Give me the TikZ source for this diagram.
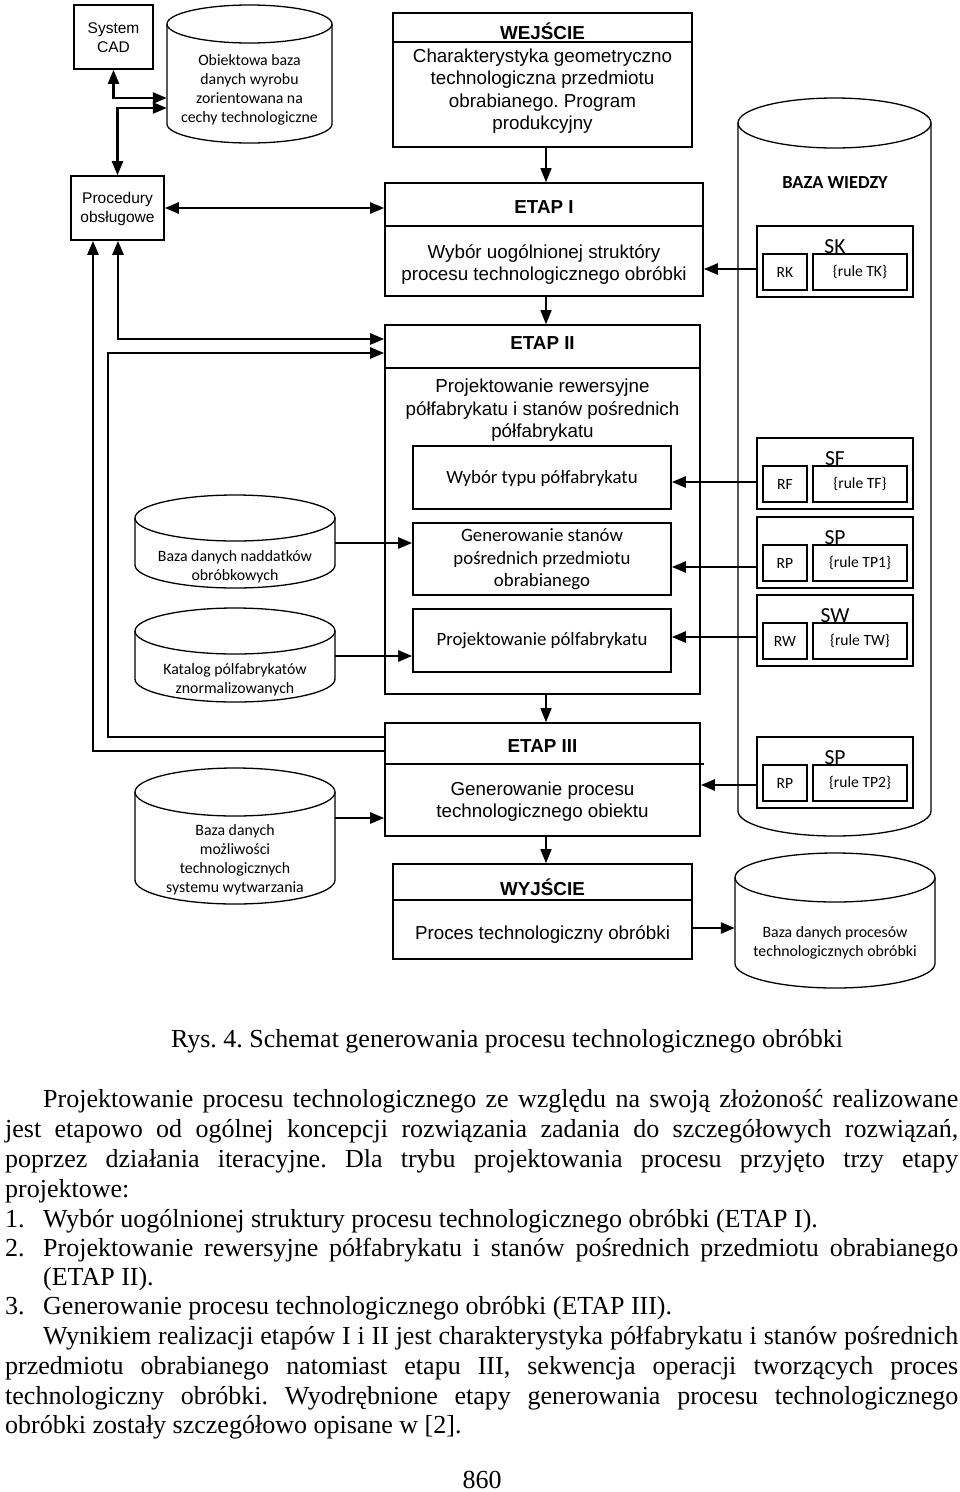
\documentclass[tikz,border=0pt]{standalone}
\usepackage{fontspec}
\setmainfont{Liberation Serif}
\newfontfamily\arialf{Liberation Sans}
\newfontfamily\calf{Carlito}
\usetikzlibrary{arrows.meta,calc}
\frenchspacing
\newcommand\mycyl[6]{% #1 name, #2 x1, #3 x2, #4 ytop, #5 ybot, #6 ry
  \node[inner sep=0pt, minimum width={(#3-#2)*1pt}, minimum height={(#5-#4)*1pt}] (#1) at ({(#2+#3)/2},{(#4+#5)/2}) {};
  \draw[cylline] ({(#2+#3)/2},{#4+#6}) ellipse [x radius={(#3-#2)/2*1pt}, y radius={#6*1pt}];
  \draw[cylline] (#2,{#4+#6}) -- (#2,{#5-#6}) arc[start angle=180, end angle=360, x radius={(#3-#2)/2*1pt}, y radius={#6*1pt}] -- (#3,{#4+#6});
}
\newcommand\rulegrp[5]{% #1 name, #2 top y, #3 title, #4 left label, #5 rule text
  \node[rbox, minimum width=156pt, minimum height=71pt] (#1) at (835,{#2+35.5}) {};
  \node[rtitle, anchor=base] (#1t) at (835,{#2+27}) {#3};
  \node[rbox, rsmall, minimum width=44pt, minimum height=36pt] (#1a) at (785,{#2+46}) {#4};
  \node[rbox, rsmall, minimum width=94pt, minimum height=36pt] (#1b) at (860,{#2+46}) {#5};
}
\begin{document}
\begin{tikzpicture}[x=1pt,y=-1pt,
  box/.style={draw, line width=1.6pt, inner sep=0pt},
  rbox/.style={draw, line width=1.6pt, inner sep=0pt},
  cylline/.style={line width=1.3pt},
  ttl/.style={font=\arialf\bfseries\fontsize{18.8}{22.5}\selectfont, inner sep=0pt},
  body/.style={font=\arialf\fontsize{18.8}{22.5}\selectfont, align=center, inner sep=0pt},
  sbody/.style={font=\arialf\fontsize{15.5}{19}\selectfont, align=center, inner sep=0pt},
  cbody/.style={font=\calf\fontsize{15.8}{19}\selectfont, align=center, inner sep=0pt},
  ibody/.style={font=\calf\fontsize{18.8}{22.5}\selectfont, align=center, inner sep=0pt},
  rtitle/.style={font=\calf\fontsize{21.5}{24}\selectfont, inner sep=0pt},
  rsmall/.style={font=\calf\fontsize{15.6}{19}\selectfont},
  thk/.style={line width=2.4pt},
  thn/.style={line width=1.3pt},
  tip/.tip={Triangle[length=14pt,width=11pt]},
  ptext/.style={anchor=base west, inner sep=0pt, font=\fontsize{26}{30}\selectfont}
]
\fill[white] (0,0) rectangle (960,1492);
\useasboundingbox (0,0) rectangle (960,1492);

% ---- left column boxes
\node[box, minimum width=79pt, minimum height=64pt] (cad) at (113.5,37) {};
\node[sbody] (cadt) at (113.5,37.5) {System\\CAD};
\node[box, minimum width=93pt, minimum height=64pt] (proc) at (117.5,208) {};
\node[sbody] (proct) at (117.5,208.5) {Procedury\\obsługowe};

% ---- cylinders
\mycyl{obj}{167}{332}{5}{143}{19}
\node[cbody] (objt) at (249.5,90) {Obiektowa baza\\danych wyrobu\\zorientowana na\\cechy technologiczne};
\mycyl{nad}{135}{335}{495}{588}{23}
\node[cbody] (nadt) at (235,566.5) {Baza danych naddatków\\obróbkowych};
\mycyl{kat}{135}{335}{608}{702}{23}
\node[cbody] (katt) at (235,679.5) {Katalog pólfabrykatów\\znormalizowanych};
\mycyl{moz}{135}{335}{768}{904}{24}
\node[cbody] (mozt) at (235,860) {Baza danych\\możliwości\\technologicznych\\systemu wytwarzania};
\mycyl{pro}{735}{935}{853}{988}{24.5}
\node[cbody] (prot) at (835,943) {Baza danych procesów\\technologicznych obróbki};
\mycyl{bw}{738}{931}{98}{836}{25}
\node[font=\calf\bfseries\fontsize{18.4}{22}\selectfont, inner sep=0pt] (bwt) at (835,183) {BAZA WIEDZY};

% ---- rule groups
\rulegrp{sk}{226}{SK}{RK}{\{rule TK\}}
\rulegrp{sf}{438}{SF}{RF}{\{rule TF\}}
\rulegrp{spa}{517}{SP}{RP}{\{rule TP1\}}
\rulegrp{sw}{595}{SW}{RW}{\{rule TW\}}
\rulegrp{spb}{737}{SP}{RP}{\{rule TP2\}}

% ---- WEJSCIE
\node[box, minimum width=299pt, minimum height=134pt] (wej) at (542.5,80) {};
\draw[box] (wej.west |- 0,42) -- (wej.east |- 0,42);
\node[ttl, anchor=base] (wejt) at (542.5,39) {WEJŚCIE};
\node[body] (wejb) at (542.5,91) {Charakterystyka geometryczno\\technologiczna przedmiotu\\obrabianego. Program\\produkcyjny};

% ---- ETAP I
\node[box, minimum width=318pt, minimum height=113pt] (e1) at (544,239.5) {};
\draw[box] (e1.west |- 0,226) -- (e1.east |- 0,226);
\node[ttl, anchor=base] (e1t) at (544,213) {ETAP I};
\node[body] (e1b) at (544,264.5) {Wybór uogólnionej struktóry\\procesu technologicznego obróbki};

% ---- ETAP II
\node[box, minimum width=315pt, minimum height=369pt] (e2) at (542.5,509.5) {};
\draw[box] (e2.west |- 0,368) -- (e2.east |- 0,368);
\node[ttl, anchor=base] (e2t) at (542.5,349) {ETAP II};
\node[body] (e2b) at (542.5,410.5) {Projektowanie rewersyjne\\półfabrykatu i stanów pośrednich\\półfabrykatu};
\node[box, minimum width=258pt, minimum height=63pt] (wyb) at (542,477.5) {};
\node[ibody] (wybt) at (542,478) {Wybór typu półfabrykatu};
\node[box, minimum width=258pt, minimum height=72pt] (gen) at (542,559) {};
\node[ibody] (gent) at (542,559.5) {Generowanie stanów\\pośrednich przedmiotu\\obrabianego};
\node[box, minimum width=258pt, minimum height=63pt] (proj) at (542,640.5) {};
\node[ibody] (projt) at (542,641) {Projektowanie pólfabrykatu};

% ---- ETAP III
\node[box, minimum width=315pt, minimum height=113pt] (e3) at (542.5,779.5) {};
\draw[box] (e3.west |- 0,764) -- ([xshift=3pt]e3.east |- 0,764);
\node[ttl, anchor=base] (e3t) at (542.5,752) {ETAP III};
\node[body] (e3b) at (542.5,801.5) {Generowanie procesu\\technologicznego obiektu};

% ---- WYJSCIE
\node[box, minimum width=299pt, minimum height=95pt] (wyj) at (542.5,911.5) {};
\draw[box] (wyj.west |- 0,900) -- (wyj.east |- 0,900);
\node[ttl, anchor=base] (wyjt) at (542.5,895) {WYJŚCIE};
\node[body] (wyjb) at (542.5,935) {Proces technologiczny obróbki};

% ---- connectors
\draw[thk, tip-tip] (cad.south) |- (obj.west |- 0,98);
\draw[thk, tip-tip] (proc.north) |- (obj.west |- 0,108);
\draw[thk, tip-tip] (proc.east) -- (proc.east -| e1.west);
\draw[thk, tip-tip] (proc.south -| 118,0) |- (e2.west |- 0,339);
\draw[thk, -tip] (e3.west |- 0,751) -| (proc.south -| 93,0);
\draw[thk, -tip] (e3.west |- 0,737) -| (108,353) -- (e2.west |- 0,353);
\draw[thk, -tip] (nad.east |- 0,543) -- (gen.west |- 0,543);
\draw[thk, -tip] (kat.east |- 0,656) -- (proj.west |- 0,656);
\draw[thk, -tip] (moz.east |- 0,818) -- (e3.west |- 0,818);
\draw[thk, -tip] (sk.west |- 0,269) -- (e1.east |- 0,269);
\draw[thk, -tip] (sf.west |- 0,482) -- (wyb.east |- 0,482);
\draw[thk, -tip] (spa.west |- 0,567) -- (gen.east |- 0,567);
\draw[thk, -tip] (sw.west |- 0,637) -- (proj.east |- 0,637);
\draw[thk, -tip] (spb.west |- 0,785) -- (e3.east |- 0,785);
\draw[thk, -tip] (wyj.east |- 0,928) -- (pro.west |- 0,928);
\draw[thn, -tip] (wej.south -| 546,0) -- (e1.north -| 546,0);
\draw[thn, -tip] (e1.south -| 546,0) -- (e2.north -| 546,0);
\draw[thn, -tip] (e2.south -| 546,0) -- (e3.north -| 546,0);
\draw[thn, -tip] (e3.south -| 546,0) -- (wyj.north -| 546,0);

% ---- caption and text
\node[anchor=base, inner sep=0pt, font=\fontsize{26}{30}\selectfont] (cap) at (507,1047) {Rys. 4. Schemat generowania procesu technologicznego obróbki};
\node[ptext] (l1) at (43,1107) {\makebox[915pt][s]{Projektowanie procesu technologicznego ze względu na swoją złożoność realizowane}};
\node[ptext] (l2) at (5,1137) {\makebox[953pt][s]{jest etapowo od ogólnej koncepcji rozwiązania zadania do szczegółowych rozwiązań,}};
\node[ptext] (l3) at (5,1167) {\makebox[953pt][s]{poprzez działania iteracyjne. Dla trybu projektowania procesu przyjęto trzy etapy}};
\node[ptext] (l4) at (5,1197) {projektowe:};
\node[ptext] (l5n) at (5,1227) {1.};
\node[ptext] (l5) at (43,1227) {Wybór uogólnionej struktury procesu technologicznego obróbki (ETAP I).};
\node[ptext] (l6n) at (5,1256) {2.};
\node[ptext] (l6) at (43,1256) {\makebox[915pt][s]{Projektowanie rewersyjne półfabrykatu i stanów pośrednich przedmiotu obrabianego}};
\node[ptext] (l7) at (43,1285) {(ETAP II).};
\node[ptext] (l8n) at (5,1314) {3.};
\node[ptext] (l8) at (43,1314) {Generowanie procesu technologicznego obróbki (ETAP III).};
\node[ptext] (l9) at (43,1344) {\makebox[915pt][s]{Wynikiem realizacji etapów I i II jest charakterystyka półfabrykatu i stanów pośrednich}};
\node[ptext] (l10) at (5,1374) {\makebox[953pt][s]{przedmiotu obrabianego natomiast etapu III, sekwencja operacji tworzących proces}};
\node[ptext] (l11) at (5,1404) {\makebox[953pt][s]{technologiczny obróbki. Wyodrębnione etapy generowania procesu technologicznego}};
\node[ptext] (l12) at (5,1433) {obróbki zostały szczegółowo opisane w [2].};
\node[anchor=base, inner sep=0pt, font=\fontsize{26}{30}\selectfont] (pg) at (482,1488) {860};
\end{tikzpicture}
\end{document}
